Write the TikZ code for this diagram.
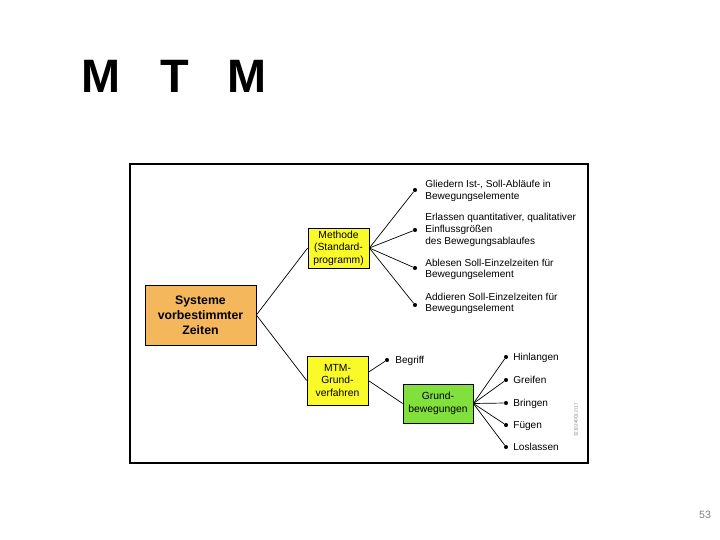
\documentclass[tikz,border=0pt]{standalone}
\usepackage{fontspec}
\setmainfont{Liberation Sans}
\usetikzlibrary{positioning}

\tikzset{
  box/.style={draw,align=center,inner sep=1pt,font=\fontsize{8.8}{10.6}\selectfont},
  item/.style={anchor=west,align=left,inner sep=0pt,font=\fontsize{8.6}{10}\selectfont},
  dot/.style={circle,fill,inner sep=0pt,minimum size=3.5pt}
}
\definecolor{orangebox}{RGB}{245,183,92}
\definecolor{yellowbox}{RGB}{250,250,40}
\definecolor{greenbox}{RGB}{130,224,60}

\begin{document}
\begin{tikzpicture}[x=0.03cm,y=-0.03cm,line width=.6pt]
\useasboundingbox (0,0) rectangle (720,540);
% title
\node[font=\fontsize{40}{40}\selectfont\bfseries] (t1) at (101,76) {M};
\node[font=\fontsize{40}{40}\selectfont\bfseries] (t2) at (175,76) {T};
\node[font=\fontsize{40}{40}\selectfont\bfseries] (t3) at (247,76) {M};
\node[gray,font=\fontsize{9}{9}\selectfont] (pg) at (705,515) {53};
% frame
\draw[line width=1pt] (130,164) rectangle (588,463);
% boxes
\node[box,fill=orangebox,minimum width=3.33cm,minimum height=1.8cm,font=\fontsize{10.5}{12.8}\selectfont\bfseries] (sys) at (200.5,315) {Systeme\\vorbestimmter\\Zeiten};
\node[box,fill=yellowbox,minimum width=1.83cm,minimum height=1.2cm] (meth) at (338.5,248) {Methode\\(Standard-\\programm)};
\node[box,fill=yellowbox,minimum width=1.83cm,minimum height=1.47cm] (mtm) at (337.5,380.5) {MTM-\\Grund-\\verfahren};
\node[box,fill=greenbox,minimum width=2.1cm,minimum height=1.17cm] (grund) at (438,403.5) {Grund-\\bewegungen};
\draw (sys.east) -- (meth.west);
\draw (sys.east) -- (mtm.west);
\draw (mtm.east) -- (grund.west);
% Methode branches
\node[dot] (m1) at (415,190) {};
\node[dot] (m2) at (415,230) {};
\node[dot] (m3) at (415,268) {};
\node[dot] (m4) at (415,305) {};
\foreach \d in {m1,m2,m3,m4} \draw (meth.east) -- (\d);
\node[item] (l1) at (425,191) {Gliedern Ist-, Soll-Abläufe in\\Bewegungselemente};
\node[item] (l2) at (425,230) {Erlassen quantitativer, qualitativer\\Einflussgrößen\\des Bewegungsablaufes};
\node[item] (l3) at (425,269.5) {Ablesen Soll-Einzelzeiten für\\Bewegungselement};
\node[item] (l4) at (425,303.5) {Addieren Soll-Einzelzeiten für\\Bewegungselement};
% MTM branches
\node[dot] (b) at (387,360) {};
\draw (mtm.15) -- (b);
\node[item,anchor=mid west] (lb) at (395,360) {Begriff};
\foreach \n/\y/\t in {g1/357/Hinlangen,g2/380/Greifen,g3/403/Bringen,g4/425/Fügen,g5/447/Loslassen}{
  \node[dot] (\n) at (506,\y) {};
  \draw (grund.east) -- (\n);
  \node[item,anchor=mid west] at (513,\y) {\t};
}
\node[gray,rotate=90,font=\fontsize{4}{4}\selectfont] (code) at (576,420) {321024001.2/17};
\end{tikzpicture}
\end{document}
